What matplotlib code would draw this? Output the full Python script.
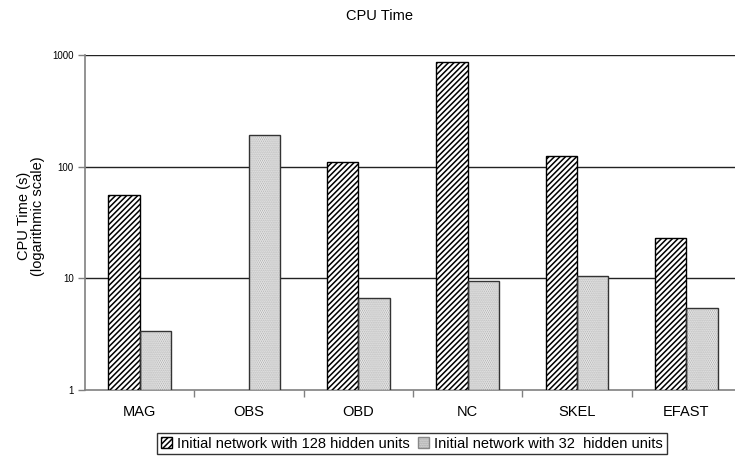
import numpy as np
import matplotlib
matplotlib.use("Agg")
import matplotlib.pyplot as plt
from matplotlib.patches import Patch

plt.rcParams['font.family'] = ['Liberation Sans', 'DejaVu Sans']
plt.rcParams['hatch.linewidth'] = 1.1

methods = ["MAG", "OBS", "OBD", "NC", "SKEL", "EFAST"]
cpu_128 = [56, np.nan, 111, 870, 124, 23]
cpu_32 = [3.4, 193, 6.7, 9.4, 10.6, 5.45]
series_labels = ["Initial network with 128 hidden units",
                 "Initial network with 32  hidden units"]
yticks = [1, 10, 100, 1000]

W, H = 735, 457
fig = plt.figure(figsize=(W / 100, H / 100), dpi=100)
ax = fig.add_axes([85 / W, (H - 390) / H, (741 - 85) / W, (390 - 55) / H])

x = np.arange(len(methods))
w = 0.286

h128 = np.array(cpu_128, dtype=float)
h32 = np.array(cpu_32, dtype=float)
m = ~np.isnan(h128)

dot_color = "#a8a8a8"

# hatched fills
ax.bar(x[m] - w / 2, h128[m] - 1, bottom=1, width=w, color="white",
       edgecolor="black", hatch="//////", linewidth=0, zorder=3)
ax.bar(x + w / 2, h32 - 1, bottom=1, width=w, color="white",
       edgecolor=dot_color, hatch="........", linewidth=0, zorder=3)
# outlines
ax.bar(x[m] - w / 2, h128[m] - 1, bottom=1, width=w, fill=False,
       edgecolor="black", linewidth=1.0, zorder=4)
ax.bar(x + w / 2, h32 - 1, bottom=1, width=w, fill=False,
       edgecolor="#333333", linewidth=1.0, zorder=4)

ax.set_yscale("log")
ax.set_ylim(1, 1000)
ax.set_xlim(-0.5, len(methods) - 0.5)
ax.set_yticks(yticks)
ax.set_yticklabels([str(v) for v in yticks], fontsize=7)
ax.yaxis.set_minor_locator(matplotlib.ticker.NullLocator())
for v in yticks[1:]:
    ax.axhline(v, color="#222222", linewidth=1.0, zorder=1)

ax.set_xticks(x)
ax.set_xticklabels(methods, fontsize=10.5)
ax.tick_params(axis="x", length=0, pad=11)
ax.set_xticks(np.arange(len(methods) - 1) + 0.5, minor=True)
ax.tick_params(axis="x", which="minor", length=5, color="#808080", width=1)
ax.tick_params(axis="y", length=5, color="#808080", width=1, pad=3)

for s in ["top", "right"]:
    ax.spines[s].set_visible(False)
for s in ["left", "bottom"]:
    ax.spines[s].set_color("#808080")
    ax.spines[s].set_linewidth(1.2)

ax.set_ylabel("CPU Time (s)\n(logarithmic scale)", fontsize=10.5,
              linespacing=1.0)
ax.yaxis.set_label_coords(-0.061, 0.52)
fig.text(380 / W, 1 - 16 / H, "CPU Time", ha="center", va="center",
         fontsize=10.5)

handles = [Patch(facecolor="white", edgecolor="black", hatch="//////"),
           Patch(facecolor="white", edgecolor="#888888", hatch="........")]
leg = fig.legend(handles, series_labels, loc="center",
                 bbox_to_anchor=(412 / W, 1 - 443.5 / H), ncol=2,
                 fontsize=10.5, frameon=True, fancybox=False,
                 handlelength=0.75, handleheight=0.75, handletextpad=0.35,
                 columnspacing=0.6, borderpad=0.25, borderaxespad=0)
leg.get_frame().set_edgecolor("black")
leg.get_frame().set_linewidth(1.0)

fig.savefig("out.png", dpi=100)
